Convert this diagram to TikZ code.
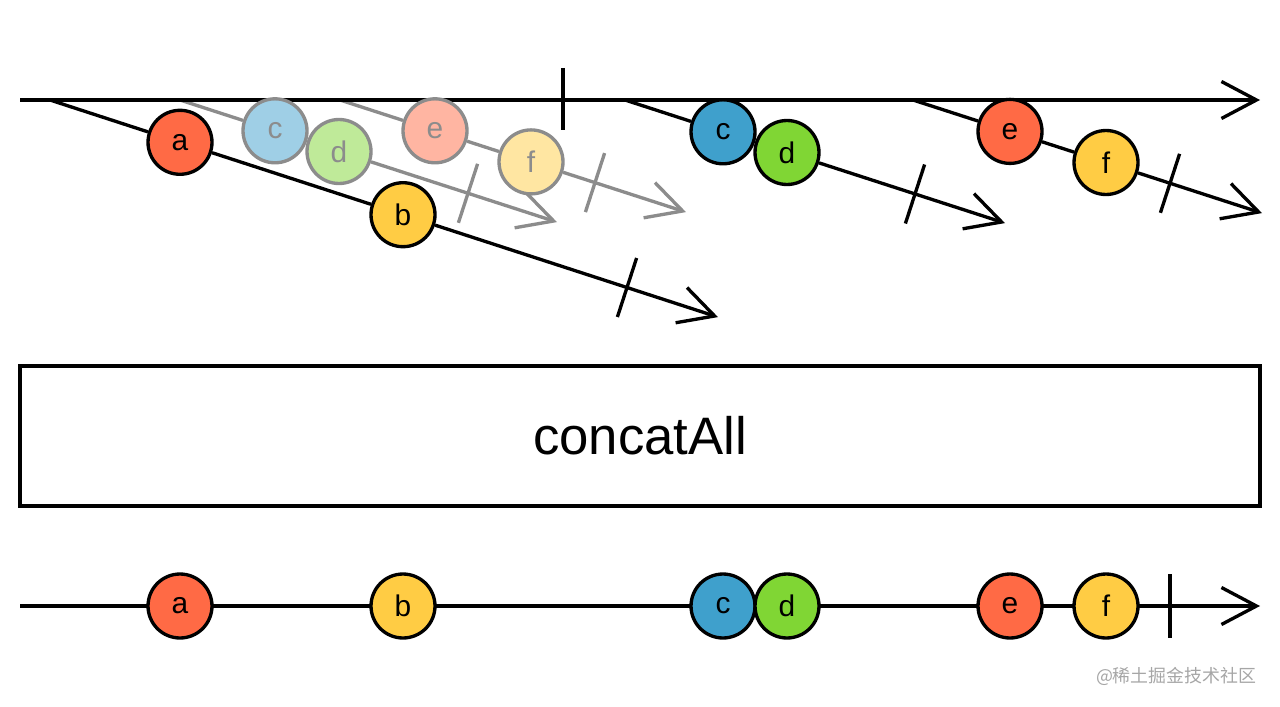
\documentclass[tikz,border=0pt]{standalone}
\usepackage{fontspec}
\setmainfont{Liberation Sans}
\newfontfamily\cjk{Noto Sans CJK SC}
\usetikzlibrary{arrows.meta, positioning}
\definecolor{redball}{HTML}{FF6A45}
\definecolor{yellowball}{HTML}{FFCC44}
\definecolor{blueball}{HTML}{3FA0CC}
\definecolor{greenball}{HTML}{80D634}
\pgfdeclarelayer{background}
\pgfsetlayers{background,main}

\begin{document}
\begin{tikzpicture}[x=0.02cm, y=-0.02cm, every path/.style={line width=1.9pt}, ->, >={Straight Barb[length=0.7cm,width=0.74cm]}]
    \tikzstyle{marble}=[circle, minimum size=1.28cm, inner sep=0pt, draw=black, font=\fontsize{17}{17}\selectfont]
    \tikzstyle{faded marble}=[marble, draw=black!45, text=black!45]
    \tikzstyle{faded line}=[draw=black!45]
    \tikzstyle{tick}=[-]

    \useasboundingbox (0,0) rectangle (1280,706);

    % Start, end and tick points of the streams
    \coordinate (T-start) at (20,100);
    \coordinate (T-end) at (1260,100);
    \coordinate (T-tick) at (563,100);
    \foreach \name / \sx / \ex / \ey / \tx / \ty in {1/50/718/317.1/627/287.5, 2/180/557/222.1/468/193.3,
        3/340/686/212.1/595/182.6, 4/625/1005/223.1/915/194, 5/913/1262/213.1/1170/183.3}
    {
        \coordinate (S-\name) at (\sx,100);
        \coordinate (E-\name) at (\ex,\ey);
        \coordinate (K-\name) at (\tx,\ty);
    }
    \coordinate (B-start) at (20,606);
    \coordinate (B-end) at (1260,606);
    \coordinate (B-tick) at (1170,606);

    % Draw the marbles of the inner streams
    \node[marble, fill=redball] (A-1) at (180,142.3) {a};
    \node[marble, fill=yellowball] (A-2) at (403,214.7) {b};
    \node[faded marble, fill=blueball!50] (F-1) at (275,130.8) {c};
    \node[faded marble, fill=greenball!50] (F-2) at (339,151.5) {d};
    \node[faded marble, fill=redball!50] (F-3) at (435,130.8) {e};
    \node[faded marble, fill=yellowball!50] (F-4) at (531,161.9) {f};
    \node[marble, fill=blueball] (C-1) at (723,131.8) {c};
    \node[marble, fill=greenball] (C-2) at (787,152.5) {d};
    \node[marble, fill=redball] (C-3) at (1010,131.4) {e};
    \node[marble, fill=yellowball] (C-4) at (1106,162.5) {f};

    \begin{pgfonlayer}{background}
    % Draw the faded streams
    \draw[faded line,-] (S-2) -- (F-1);
    \draw[faded line,-] (F-1) -- (F-2);
    \draw[faded line] (F-2) -- (E-2);
    \draw[faded line,-] (S-3) -- (F-3);
    \draw[faded line,-] (F-3) -- (F-4);
    \draw[faded line] (F-4) -- (E-3);
    \draw[faded line,tick] (K-2) ++(-9.6,29.5) -- ++(19.2,-59);
    \draw[faded line,tick] (K-3) ++(-9.6,29.5) -- ++(19.2,-59);

    % Draw the outer stream
    \draw (T-start) -- (T-end);
    \draw[tick] (T-tick) ++(0,-32) -- ++(0,62);

    % Draw the black streams
    \draw[-] (S-1) -- (A-1);
    \draw[-] (A-1) -- (A-2);
    \draw (A-2) -- (E-1);
    \draw[-] (S-4) -- (C-1);
    \draw (C-2) -- (E-4);
    \draw[-] (S-5) -- (C-3);
    \draw[-] (C-3) -- (C-4);
    \draw (C-4) -- (E-5);
    \foreach \name in {1,4,5}
        \draw[tick] (K-\name) ++(-9.6,29.5) -- ++(19.2,-59);
    \end{pgfonlayer}

    % Draw the operator box
    \node[draw, -, minimum width=24.8cm, minimum height=2.8cm, inner sep=0pt,
        font=\fontsize{30}{30}\selectfont] (op) at (640,436) {concatAll};

    % Draw the result stream
    \draw (B-start) -- (B-end);
    \draw[tick] (B-tick) ++(0,-32) -- ++(0,64);
    \foreach \name / \x / \c / \l in {1/180/redball/a, 2/403/yellowball/b, 3/723/blueball/c,
        4/787/greenball/d, 5/1010/redball/e, 6/1106/yellowball/f}
        \node[marble, fill=\c] (R-\name) at (\x,606) {\l};

    % Watermark
    \node[anchor=east, inner sep=0pt, text=black!35, font=\cjk\fontsize{10.2}{10.2}\selectfont] (mark) at (1258,676) {@稀土掘金技术社区};
\end{tikzpicture}
\end{document}
